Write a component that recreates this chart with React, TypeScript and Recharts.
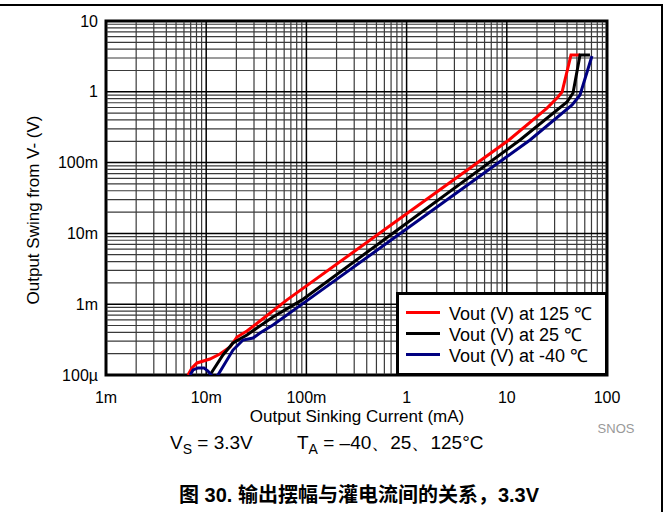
import React from "react";
import { LineChart, Line, XAxis, YAxis, ReferenceLine, ReferenceArea, Legend } from "recharts";

const FONT = '"Liberation Sans", Arial, Helvetica, sans-serif';

// axis decades and their labels
const xTicks = [0.001, 0.01, 0.1, 1, 10, 100];
const xTickLabels = ["1m", "10m", "100m", "1", "10", "100"];
const yTicks = [0.0001, 0.001, 0.01, 0.1, 1, 10];
const yTickLabels = ["100µ", "1m", "10m", "100m", "1", "10"];
const minorSteps = [2, 3, 4, 5, 6, 7, 8, 9];

// output sinking current (mA) vs output swing from V- (V)
const vout125 = [
  { i: 0.00658, v: 0.0001 },
  { i: 0.00721, v: 0.000126 },
  { i: 0.00809, v: 0.000148 },
  { i: 0.0109, v: 0.000168 },
  { i: 0.0137, v: 0.000198 },
  { i: 0.0173, v: 0.000249 },
  { i: 0.0203, v: 0.000344 },
  { i: 0.0255, v: 0.000418 },
  { i: 0.0344, v: 0.000579 },
  { i: 0.064, v: 0.00115 },
  { i: 10.5, v: 0.2085 },
  { i: 25.2, v: 0.59 },
  { i: 32.4, v: 0.845 },
  { i: 35.6, v: 0.993 },
  { i: 43.7, v: 3.3 },
  { i: 53.8, v: 3.3 },
];

const vout25 = [
  { i: 0.0109, v: 0.0001 },
  { i: 0.0147, v: 0.000192 },
  { i: 0.0185, v: 0.000283 },
  { i: 0.0255, v: 0.000367 },
  { i: 0.0321, v: 0.000461 },
  { i: 0.0464, v: 0.00066 },
  { i: 0.0904, v: 0.00115 },
  { i: 13.55, v: 0.2085 },
  { i: 39.9, v: 0.718 },
  { i: 45.8, v: 0.962 },
  { i: 53.8, v: 3.3 },
  { i: 67.6, v: 3.3 },
];

const voutM40 = [
  { i: 0.0069, v: 0.0001 },
  { i: 0.0074, v: 0.000118 },
  { i: 0.0083, v: 0.000126 },
  { i: 0.0095, v: 0.000126 },
  { i: 0.0104, v: 0.000114 },
  { i: 0.0112, v: 0.0001 },
  { i: 0.012, v: 0.00009 },
  { i: 0.0131, v: 0.0001 },
  { i: 0.0185, v: 0.000225 },
  { i: 0.0233, v: 0.000312 },
  { i: 0.0293, v: 0.000333 },
  { i: 0.0344, v: 0.000392 },
  { i: 0.0464, v: 0.000508 },
  { i: 0.1038, v: 0.00115 },
  { i: 17.06, v: 0.2085 },
  { i: 44.8, v: 0.651 },
  { i: 53.8, v: 0.9 },
  { i: 70.8, v: 3.2 },
];

const series = [
  { name: "Vout (V) at 125 ℃", color: "#ff0000", data: vout125 },
  { name: "Vout (V) at 25 ℃", color: "#000000", data: vout25 },
  { name: "Vout (V) at -40 ℃", color: "#000080", data: voutM40 },
];

const xMinor = xTicks.slice(0, -1).flatMap((d) => minorSteps.map((m) => d * m));
const yMinor = yTicks.slice(0, -1).flatMap((d) => minorSteps.map((m) => d * m));

const LegendBox = () => (
  <div
    style={{
      width: 212,
      height: 84,
      boxSizing: "border-box",
      border: "3px solid #000",
      background: "#fff",
      position: "relative",
      fontFamily: FONT,
      fontSize: 18,
      color: "#000",
    }}
  >
    {series.map((s, k) => (
      <div key={s.name} style={{ position: "absolute", left: 7, top: 7 + k * 21, height: 21, display: "flex", alignItems: "center" }}>
        <div style={{ width: 34, height: 3, background: s.color }} />
        <span style={{ marginLeft: 9, whiteSpace: "nowrap" }}>{s.name}</span>
      </div>
    ))}
  </div>
);

export default function App() {
  return (
    <div style={{ position: "absolute", left: 0, top: 0, width: 665, height: 512, background: "#fff", fontFamily: FONT }}>
      <LineChart width={665} height={512} margin={{ top: 21, right: 58, bottom: 107, left: 46 }}>
        <XAxis
          dataKey="i"
          type="number"
          scale="log"
          domain={[0.001, 100]}
          allowDataOverflow
          ticks={xTicks}
          interval={0}
          tickFormatter={(v) => xTickLabels[xTicks.indexOf(v)]}
          axisLine={false}
          tickLine={false}
          tickMargin={11}
          height={30}
          tick={{ fill: "#000", fontSize: 16, fontFamily: FONT }}
        />
        <YAxis
          type="number"
          scale="log"
          domain={[0.0001, 10]}
          allowDataOverflow
          ticks={yTicks}
          interval={0}
          tickFormatter={(v) => yTickLabels[yTicks.indexOf(v)]}
          axisLine={false}
          tickLine={false}
          width={60}
          tick={{ fill: "#000", fontSize: 16, fontFamily: FONT }}
        />
        {xMinor.map((v) => (
          <ReferenceLine key={"xm" + v} x={v} stroke="#3a3a3a" strokeWidth={1.2} />
        ))}
        {yMinor.map((v) => (
          <ReferenceLine key={"ym" + v} y={v} stroke="#3a3a3a" strokeWidth={1.2} />
        ))}
        {xTicks.map((v) => (
          <ReferenceLine key={"xM" + v} x={v} stroke="#000" strokeWidth={1.5} />
        ))}
        {yTicks.map((v) => (
          <ReferenceLine key={"yM" + v} y={v} stroke="#000" strokeWidth={1.5} />
        ))}
        {series.map((s) => (
          <Line
            key={s.name}
            name={s.name}
            data={s.data}
            dataKey="v"
            type="linear"
            stroke={s.color}
            strokeWidth={3}
            dot={false}
            isAnimationActive={false}
          />
        ))}
        <ReferenceArea x1={0.001} x2={100} y1={0.0001} y2={10} fill="none" stroke="#000" strokeWidth={3} ifOverflow="visible" />
        <Legend
          layout="vertical"
          align="center"
          verticalAlign="middle"
          wrapperStyle={{ left: 396, top: 292, width: 212, height: 84 }}
          content={() => <LegendBox />}
        />
      </LineChart>

      <svg width={665} height={512} style={{ position: "absolute", left: 0, top: 0, pointerEvents: "none" }} fontFamily={FONT}>
        <line x1={0} y1={5} x2={663} y2={5} stroke="#000" strokeWidth={2} />
        <line x1={662} y1={4} x2={662} y2={512} stroke="#000" strokeWidth={2} />
        <text transform="translate(39,210) rotate(-90)" textAnchor="middle" fontSize={17} fill="#000">
          Output Swing from V- (V)
        </text>
        <text x={357} y={422} textAnchor="middle" fontSize={17} fill="#000">
          Output Sinking Current (mA)
        </text>
        <text x={616} y={433} textAnchor="middle" fontSize={13} fill="#999">
          SNOS
        </text>
        <text x={170} y={449} fontSize={19} fill="#000">
          V<tspan fontSize={14} dy={5}>S</tspan>
          <tspan dy={-5}> = 3.3V</tspan>
        </text>
        <text x={297} y={449} fontSize={19} fill="#000">
          T<tspan fontSize={14} dy={5}>A</tspan>
          <tspan dy={-5}> = –40、25、125°C</tspan>
        </text>
        <text x={359} y={502} textAnchor="middle" fontSize={20} fontWeight="bold" fill="#000" fontFamily={'"Liberation Sans", Arial, "Noto Sans CJK SC", sans-serif'}>
          图 30. 输出摆幅与灌电流间的关系，3.3V
        </text>
      </svg>
    </div>
  );
}
